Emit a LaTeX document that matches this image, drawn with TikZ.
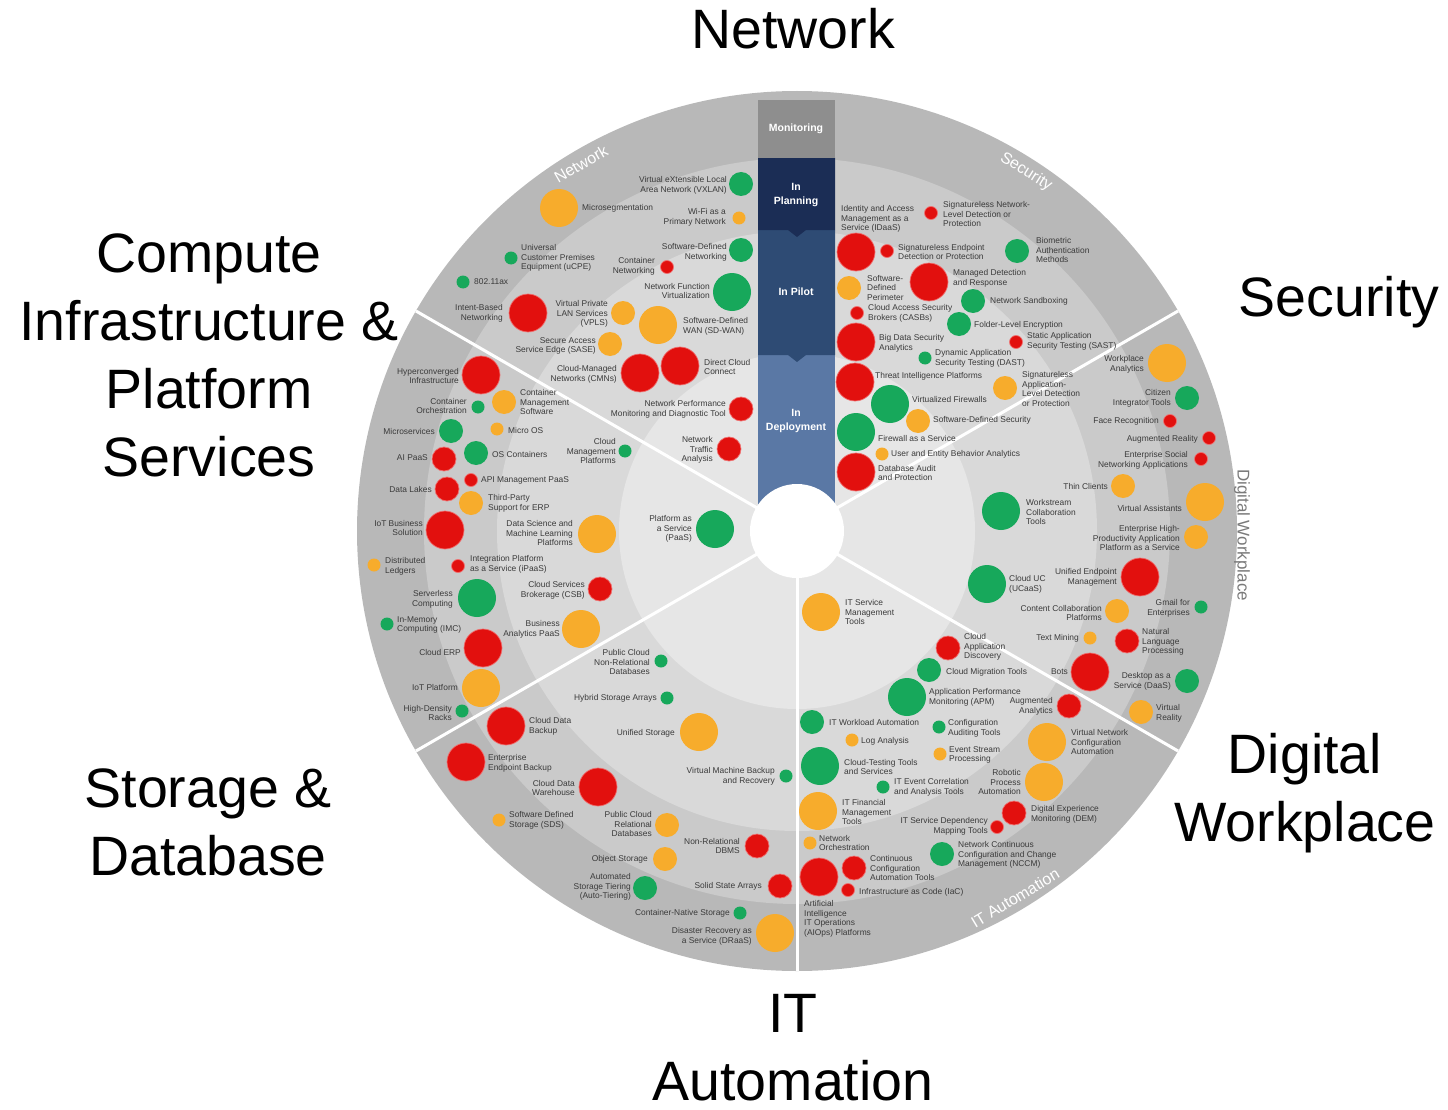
\documentclass[tikz,border=0pt]{standalone}
\usepackage{fontspec}
\setmainfont{Liberation Sans}
\usetikzlibrary{calc}
\definecolor{ringA}{HTML}{B8B8B8}
\definecolor{ringB}{HTML}{CACACA}
\definecolor{ringC}{HTML}{D9D9D9}
\definecolor{ringD}{HTML}{E6E6E6}
\definecolor{barMon}{HTML}{8E8E8E}
\definecolor{barPlan}{HTML}{1B2D55}
\definecolor{barPilot}{HTML}{2E4B74}
\definecolor{barDepl}{HTML}{5A78A5}
\definecolor{bgreen}{HTML}{17A85B}
\definecolor{borange}{HTML}{F7AC2C}
\definecolor{bred}{HTML}{E2100E}
\definecolor{bredline}{HTML}{F07070}
\definecolor{labgray}{HTML}{3A3A3A}
\definecolor{dwgray}{HTML}{7A7A7A}
\begin{document}
\begin{tikzpicture}[x=1pt,y=-1pt,
  bub/.style={circle,inner sep=0pt,outer sep=0pt},
  sizeS/.style={minimum size=13pt},
  sizeM/.style={minimum size=24pt},
  sizeL/.style={minimum size=38pt},
  greenB/.style={bub,fill=bgreen},
  orangeB/.style={bub,fill=borange},
  redB/.style={bub,fill=bred,draw=bredline,line width=0.7pt},
  lab/.style={font=\fontsize{8.4}{9.8}\selectfont,text=labgray,inner sep=0pt},
  labR/.style={lab,anchor=east,align=right},
  labL/.style={lab,anchor=west,align=left},
  bigTitle/.style={font=\fontsize{55.5}{68}\selectfont,anchor=base,inner sep=0pt},
  arcLab/.style={font=\fontsize{16}{16}\selectfont,text=white,inner sep=0pt},
  barText/.style={font=\bfseries\fontsize{10.5}{14}\selectfont,text=white,align=center,inner sep=0pt},
  divider/.style={white,line width=3pt}
]
\useasboundingbox (0,0) rectangle (1448,1110);
\coordinate (C) at (797,531);
% rings
\fill[ringA] (C) circle[radius=440];
\fill[ringB] (C) circle[radius=373];
\fill[ringC] (C) circle[radius=300];
\fill[ringD] (C) circle[radius=178];
% dividers
\coordinate (dUL) at ($(C)+(-150:440)$);
\coordinate (dUR) at ($(C)+(-30:440)$);
\coordinate (dLR) at ($(C)+(30:440)$);
\coordinate (dLL) at ($(C)+(150:440)$);
\coordinate (dDN) at ($(C)+(90:440)$);
\draw[divider] (C) -- (dUL);
\draw[divider] (C) -- (dUR);
\draw[divider] (C) -- (dLR);
\draw[divider] (C) -- (dLL);
\draw[divider] (C) -- (dDN);
% stage bar
\fill[barDepl] (758,355) rectangle (835,531);
\fill[barPilot] (758,230) -- (835,230) -- (835,355) -- (806,355) -- (797,362) -- (788,355) -- (758,355) -- cycle;
\fill[barPlan] (758,158) -- (835,158) -- (835,230) -- (806,230) -- (797,237) -- (788,230) -- (758,230) -- cycle;
\fill[barMon] (758,100) rectangle (835,158);
\fill[white] (C) circle[radius=47];
\node[barText] (mon) at (796,129) {Monitoring};
\node[barText] (plan) at (796,195) {In\\Planning};
\node[barText] (pilot) at (796,292) {In Pilot};
\node[barText] (depl) at (796,421) {In\\Deployment};
% ring labels
\node[arcLab,rotate=30] (rNet) at (581,164) {Network};
\node[arcLab,rotate=-32] (rSec) at (1026,172) {Security};
\node[arcLab,rotate=31] (rIT) at (1015,898) {IT Automation};
\node[font=\fontsize{17}{17}\selectfont,text=dwgray,rotate=-90,inner sep=0pt] (rDW) at (1242,535) {Digital Workplace};

% ================= NETWORK
\node[greenB,sizeM] (vxlan) at (741,184) {};
\node[labR] (vxlanT) at (727,185) {Virtual eXtensible Local\\Area Network (VXLAN)};
\node[orangeB,sizeL] (microseg) at (559,208) {};
\node[labL] (microsegT) at (582,208) {Microsegmentation};
\node[orangeB,sizeS] (wifi) at (739,218) {};
\node[labR] (wifiT) at (726,217) {Wi-Fi as a\\Primary Network};
\node[greenB,sizeM] (sdn) at (741,250) {};
\node[labR] (sdnT) at (727,252) {Software-Defined\\Networking};
\node[redB,sizeS] (contnet) at (667,267) {};
\node[labR] (contnetT) at (655,266) {Container\\Networking};
\node[greenB,sizeL] (nfv) at (732,292) {};
\node[labR] (nfvT) at (710,291) {Network Function\\Virtualization};
\node[orangeB,sizeL] (sdwan) at (658,325) {};
\node[labL] (sdwanT) at (683,326) {Software-Defined\\WAN (SD-WAN)};
\node[orangeB,sizeM] (vpls) at (623,313) {};
\node[labR] (vplsT) at (608,314) {Virtual Private\\LAN Services\\(VPLS)};
\node[orangeB,sizeM] (sase) at (610,344) {};
\node[labR] (saseT) at (596,346) {Secure Access\\Service Edge (SASE)};
\node[redB,sizeL] (cmn) at (640,373) {};
\node[labR] (cmnT) at (617,374) {Cloud-Managed\\Networks (CMNs)};
\node[redB,sizeL] (dcc) at (680,366) {};
\node[labL] (dccT) at (704,367) {Direct Cloud\\Connect};
\node[redB,sizeL] (ibn) at (528,313) {};
\node[labR] (ibnT) at (503,313) {Intent-Based\\Networking};
\node[greenB,sizeS] (ax) at (463,282) {};
\node[labL] (axT) at (474,282) {802.11ax};
\node[greenB,sizeS] (ucpe) at (511,258) {};
\node[labL] (ucpeT) at (521,258) {Universal\\Customer Premises\\Equipment (uCPE)};
\node[redB,sizeM] (npm) at (741,409) {};
\node[labR] (npmT) at (726,409) {Network Performance\\Monitoring and Diagnostic Tool};
\node[redB,sizeM] (nta) at (729,449) {};
\node[labR] (ntaT) at (713,450) {Network\\Traffic\\Analysis};

% ================= COMPUTE
\node[redB,sizeL] (hci) at (481,375) {};
\node[labR] (hciT) at (459,376) {Hyperconverged\\Infrastructure};
\node[greenB,sizeS] (corch) at (478,407) {};
\node[labR] (corchT) at (467,406) {Container\\Orchestration};
\node[orangeB,sizeM] (cms) at (504,402) {};
\node[labL] (cmsT) at (520,402) {Container\\Management\\Software};
\node[greenB,sizeM] (msvc) at (451,431) {};
\node[labR] (msvcT) at (435,431) {Microservices};
\node[orangeB,sizeS] (microos) at (497,429) {};
\node[labL] (microosT) at (508,430) {Micro OS};
\node[redB,sizeM] (aipaas) at (444,459) {};
\node[labR] (aipaasT) at (428,458) {AI PaaS};
\node[greenB,sizeM] (oscont) at (476,453) {};
\node[labL] (oscontT) at (492,454) {OS Containers};
\node[redB,sizeS] (apim) at (471,480) {};
\node[labL] (apimT) at (481,480) {API Management PaaS};
\node[redB,sizeM] (dlakes) at (447,489) {};
\node[labR] (dlakesT) at (432,489) {Data Lakes};
\node[orangeB,sizeM] (tperp) at (471,503) {};
\node[labL] (tperpT) at (488,503) {Third-Party\\Support for ERP};
\node[redB,sizeL] (iotbs) at (445,530) {};
\node[labR] (iotbsT) at (423,528) {IoT Business\\Solution};
\node[orangeB,sizeL] (dsml) at (597,534) {};
\node[labR] (dsmlT) at (573,533) {Data Science and\\Machine Learning\\Platforms};
\node[orangeB,sizeS] (dledg) at (374,565) {};
\node[labL] (dledgT) at (385,566) {Distributed\\Ledgers};
\node[redB,sizeS] (ipaas) at (458,566) {};
\node[labL] (ipaasT) at (470,564) {Integration Platform\\as a Service (iPaaS)};
\node[greenB,sizeL] (srvless) at (477,598) {};
\node[labR] (srvlessT) at (453,599) {Serverless\\Computing};
\node[redB,sizeM] (csb) at (600,589) {};
\node[labR] (csbT) at (585,590) {Cloud Services\\Brokerage (CSB)};
\node[greenB,sizeS] (imc) at (387,624) {};
\node[labL] (imcT) at (397,625) {In-Memory\\Computing (IMC)};
\node[orangeB,sizeL] (bapaas) at (581,629) {};
\node[labR] (bapaasT) at (560,629) {Business\\Analytics PaaS};
\node[redB,sizeL] (cerp) at (483,648) {};
\node[labR] (cerpT) at (461,652) {Cloud ERP};
\node[orangeB,sizeL] (iotp) at (481,688) {};
\node[labR] (iotpT) at (458,687) {IoT Platform};
\node[greenB,sizeS] (hdr) at (462,711) {};
\node[labR] (hdrT) at (452,713) {High-Density\\Racks};
\node[greenB,sizeL] (paas) at (715,529) {};
\node[labR] (paasT) at (692,529) {Platform as\\a Service\\(PaaS)};
\node[greenB,sizeS] (cmp) at (625,451) {};
\node[labR] (cmpT) at (616,451) {Cloud\\Management\\Platforms};

% ================= STORAGE & DATABASE
\node[redB,sizeL] (cdb) at (506,726) {};
\node[labL] (cdbT) at (529,726) {Cloud Data\\Backup};
\node[redB,sizeL] (eeb) at (466,762) {};
\node[labL] (eebT) at (488,763) {Enterprise\\Endpoint Backup};
\node[redB,sizeL] (cdw) at (598,787) {};
\node[labR] (cdwT) at (575,788) {Cloud Data\\Warehouse};
\node[orangeB,sizeS] (sds) at (499,820) {};
\node[labL] (sdsT) at (509,820) {Software Defined\\Storage (SDS)};
\node[greenB,sizeS] (pcnr) at (661,661) {};
\node[labR] (pcnrT) at (650,662) {Public Cloud\\Non-Relational\\Databases};
\node[greenB,sizeS] (hsa) at (667,698) {};
\node[labR] (hsaT) at (657,698) {Hybrid Storage Arrays};
\node[orangeB,sizeL] (ustor) at (699,732) {};
\node[labR] (ustorT) at (675,733) {Unified Storage};
\node[greenB,sizeS] (vmbr) at (786,776) {};
\node[labR] (vmbrT) at (775,776) {Virtual Machine Backup\\and Recovery};
\node[orangeB,sizeM] (pcrd) at (667,825) {};
\node[labR] (pcrdT) at (652,824) {Public Cloud\\Relational\\Databases};
\node[redB,sizeM] (nrdbms) at (757,846) {};
\node[labR] (nrdbmsT) at (740,846) {Non-Relational\\DBMS};
\node[orangeB,sizeM] (objs) at (665,859) {};
\node[labR] (objsT) at (648,859) {Object Storage};
\node[greenB,sizeM] (ast) at (645,888) {};
\node[labR] (astT) at (631,887) {Automated\\Storage Tiering\\(Auto-Tiering)};
\node[redB,sizeM] (ssa) at (780,886) {};
\node[labR] (ssaT) at (762,886) {Solid State Arrays};
\node[greenB,sizeS] (cns) at (740,913) {};
\node[labR] (cnsT) at (730,913) {Container-Native Storage};
\node[orangeB,sizeL] (draas) at (775,933) {};
\node[labR] (draasT) at (752,936) {Disaster Recovery as\\a Service (DRaaS)};

% ================= IT AUTOMATION
\node[orangeB,sizeL] (itsm) at (821,612) {};
\node[labL] (itsmT) at (845,612) {IT Service\\Management\\Tools};
\node[redB,sizeM] (cad) at (948,648) {};
\node[labL] (cadT) at (964,647) {Cloud\\Application\\Discovery};
\node[greenB,sizeM] (cmt) at (929,670) {};
\node[labL] (cmtT) at (946,672) {Cloud Migration Tools};
\node[greenB,sizeL] (apm) at (907,697) {};
\node[labL] (apmT) at (929,697) {Application Performance\\Monitoring (APM)};
\node[greenB,sizeM] (itwa) at (812,722) {};
\node[labL] (itwaT) at (829,722) {IT Workload Automation};
\node[greenB,sizeS] (cat) at (939,727) {};
\node[labL] (catT) at (948,728) {Configuration\\Auditing Tools};
\node[orangeB,sizeS] (loga) at (852,740) {};
\node[labL] (logaT) at (861,741) {Log Analysis};
\node[orangeB,sizeS] (esp) at (940,754) {};
\node[labL] (espT) at (949,755) {Event Stream\\Processing};
\node[greenB,sizeL] (ctts) at (820,766) {};
\node[labL] (cttsT) at (844,767) {Cloud-Testing Tools\\and Services};
\node[greenB,sizeS] (iteca) at (883,787) {};
\node[labL] (itecaT) at (894,787) {IT Event Correlation\\and Analysis Tools};
\node[orangeB,sizeL] (itfm) at (818,811) {};
\node[labL] (itfmT) at (842,812) {IT Financial\\Management\\Tools};
\node[redB,sizeS] (itsdm) at (997,827) {};
\node[labR] (itsdmT) at (988,826) {IT Service Dependency\\Mapping Tools};
\node[redB,sizeM] (dem) at (1014,813) {};
\node[labL] (demT) at (1031,814) {Digital Experience\\Monitoring (DEM)};
\node[orangeB,sizeL] (rpa) at (1044,782) {};
\node[labR] (rpaT) at (1021,782) {Robotic\\Process\\Automation};
\node[orangeB,sizeL] (vnca) at (1047,742) {};
\node[labL] (vncaT) at (1071,742) {Virtual Network\\Configuration\\Automation};
\node[redB,sizeM] (augan) at (1069,706) {};
\node[labR] (auganT) at (1053,706) {Augmented\\Analytics};
\node[orangeB,sizeS] (netorch) at (810,843) {};
\node[labL] (netorchT) at (819,843) {Network\\Orchestration};
\node[redB,sizeM] (ccat) at (854,868) {};
\node[labL] (ccatT) at (870,868) {Continuous\\Configuration\\Automation Tools};
\node[greenB,sizeM] (nccm) at (942,854) {};
\node[labL] (nccmT) at (958,855) {Network Continuous\\Configuration and Change\\Management (NCCM)};
\node[redB,sizeL] (aiops) at (819,877) {};
\node[labL,anchor=north west] (aiopsT) at (804,900) {Artificial\\Intelligence\\IT Operations\\(AIOps) Platforms};
\node[redB,sizeS] (iac) at (848,890) {};
\node[labL] (iacT) at (859,892) {Infrastructure as Code (IaC)};

% ================= DIGITAL WORKPLACE
\node[orangeB,sizeL] (wpa) at (1167,363) {};
\node[labR] (wpaT) at (1144,364) {Workplace\\Analytics};
\node[greenB,sizeM] (cit) at (1187,398) {};
\node[labR] (citT) at (1171,398) {Citizen\\Integrator Tools};
\node[redB,sizeS] (facer) at (1170,421) {};
\node[labR] (facerT) at (1159,421) {Face Recognition};
\node[redB,sizeS] (ar) at (1209,438) {};
\node[labR] (arT) at (1198,439) {Augmented Reality};
\node[redB,sizeS] (esna) at (1201,459) {};
\node[labR] (esnaT) at (1188,460) {Enterprise Social\\Networking Applications};
\node[orangeB,sizeM] (thin) at (1123,486) {};
\node[labR] (thinT) at (1108,486) {Thin Clients};
\node[greenB,sizeL] (wct) at (1001,511) {};
\node[labL] (wctT) at (1026,512) {Workstream\\Collaboration\\Tools};
\node[orangeB,sizeL] (va) at (1205,502) {};
\node[labR] (vaT) at (1182,508) {Virtual Assistants};
\node[orangeB,sizeM] (ehpa) at (1196,537) {};
\node[labR] (ehpaT) at (1180,538) {Enterprise High-\\Productivity Application\\Platform as a Service};
\node[redB,sizeL] (uem) at (1140,577) {};
\node[labR] (uemT) at (1117,577) {Unified Endpoint\\Management};
\node[greenB,sizeL] (ucaas) at (987,584) {};
\node[labL] (ucaasT) at (1009,584) {Cloud UC\\(UCaaS)};
\node[greenB,sizeS] (gmail) at (1201,607) {};
\node[labR] (gmailT) at (1190,608) {Gmail for\\Enterprises};
\node[orangeB,sizeM] (ccp) at (1117,611) {};
\node[labR] (ccpT) at (1102,613) {Content Collaboration\\Platforms};
\node[orangeB,sizeS] (tmin) at (1090,638) {};
\node[labR] (tminT) at (1079,638) {Text Mining};
\node[redB,sizeM] (nlp) at (1127,641) {};
\node[labL] (nlpT) at (1142,642) {Natural\\Language\\Processing};
\node[redB,sizeL] (bots) at (1090,672) {};
\node[labR] (botsT) at (1068,672) {Bots};
\node[greenB,sizeM] (daas) at (1187,681) {};
\node[labR] (daasT) at (1171,681) {Desktop as a\\Service (DaaS)};
\node[orangeB,sizeM] (vr) at (1141,712) {};
\node[labL] (vrT) at (1156,713) {Virtual\\Reality};

% ================= SECURITY
\node[redB,sizeL] (idaas) at (856,252) {};
\node[labL] (idaasT) at (841,219) {Identity and Access\\Management as a\\Service (IDaaS)};
\node[redB,sizeS] (snld) at (931,213) {};
\node[labL] (snldT) at (943,214) {Signatureless Network-\\Level Detection or\\Protection};
\node[redB,sizeS] (sedp) at (887,251) {};
\node[labL] (sedpT) at (898,252) {Signatureless Endpoint\\Detection or Protection};
\node[greenB,sizeM] (bio) at (1017,251) {};
\node[labL] (bioT) at (1036,250) {Biometric\\Authentication\\Methods};
\node[orangeB,sizeM] (sdp) at (849,288) {};
\node[labL] (sdpT) at (867,288) {Software-\\Defined\\Perimeter};
\node[redB,sizeL] (mdr) at (929,282) {};
\node[labL] (mdrT) at (953,278) {Managed Detection\\and Response};
\node[greenB,sizeM] (nsand) at (973,301) {};
\node[labL] (nsandT) at (990,301) {Network Sandboxing};
\node[redB,sizeS] (casb) at (857,313) {};
\node[labL] (casbT) at (868,313) {Cloud Access Security\\Brokers (CASBs)};
\node[greenB,sizeM] (fle) at (959,324) {};
\node[labL] (fleT) at (974,325) {Folder-Level Encryption};
\node[redB,sizeL] (bdsa) at (856,342) {};
\node[labL] (bdsaT) at (879,343) {Big Data Security\\Analytics};
\node[redB,sizeS] (sast) at (1016,342) {};
\node[labL] (sastT) at (1027,341) {Static Application\\Security Testing (SAST)};
\node[greenB,sizeS] (dast) at (925,358) {};
\node[labL] (dastT) at (935,358) {Dynamic Application\\Security Testing (DAST)};
\node[redB,sizeL] (tip) at (855,382) {};
\node[labL] (tipT) at (875,376) {Threat Intelligence Platforms};
\node[orangeB,sizeM] (salp) at (1005,388) {};
\node[labL] (salpT) at (1022,389) {Signatureless\\Application-\\Level Detection\\or Protection};
\node[greenB,sizeL] (vfw) at (890,404) {};
\node[labL] (vfwT) at (912,399) {Virtualized Firewalls};
\node[orangeB,sizeM] (sdsec) at (918,421) {};
\node[labL] (sdsecT) at (933,420) {Software-Defined Security};
\node[greenB,sizeL] (faas) at (856,432) {};
\node[labL] (faasT) at (878,438) {Firewall as a Service};
\node[orangeB,sizeS] (ueba) at (882,454) {};
\node[labL] (uebaT) at (891,454) {User and Entity Behavior Analytics};
\node[redB,sizeL] (dap) at (856,472) {};
\node[labL] (dapT) at (878,473) {Database Audit\\and Protection};

% ================= TITLES (one node per printed line)
\node[bigTitle] (tNet) at (793,49) {Network};
\node[bigTitle] (tComp1) at (209,272) {Compute};
\node[bigTitle] (tComp2) at (209,340) {Infrastructure \&};
\node[bigTitle] (tComp3) at (209,408) {Platform};
\node[bigTitle] (tComp4) at (209,476) {Services};
\node[bigTitle] (tSec) at (1339,316) {Security};
\node[bigTitle] (tStor1) at (208,807) {Storage \&};
\node[bigTitle] (tStor2) at (208,875) {Database};
\node[bigTitle] (tDW1) at (1305,773) {Digital};
\node[bigTitle] (tDW2) at (1305,841) {Workplace};
\node[bigTitle] (tIT1) at (793,1032) {IT};
\node[bigTitle] (tIT2) at (793,1100) {Automation};
\end{tikzpicture}
\end{document}
